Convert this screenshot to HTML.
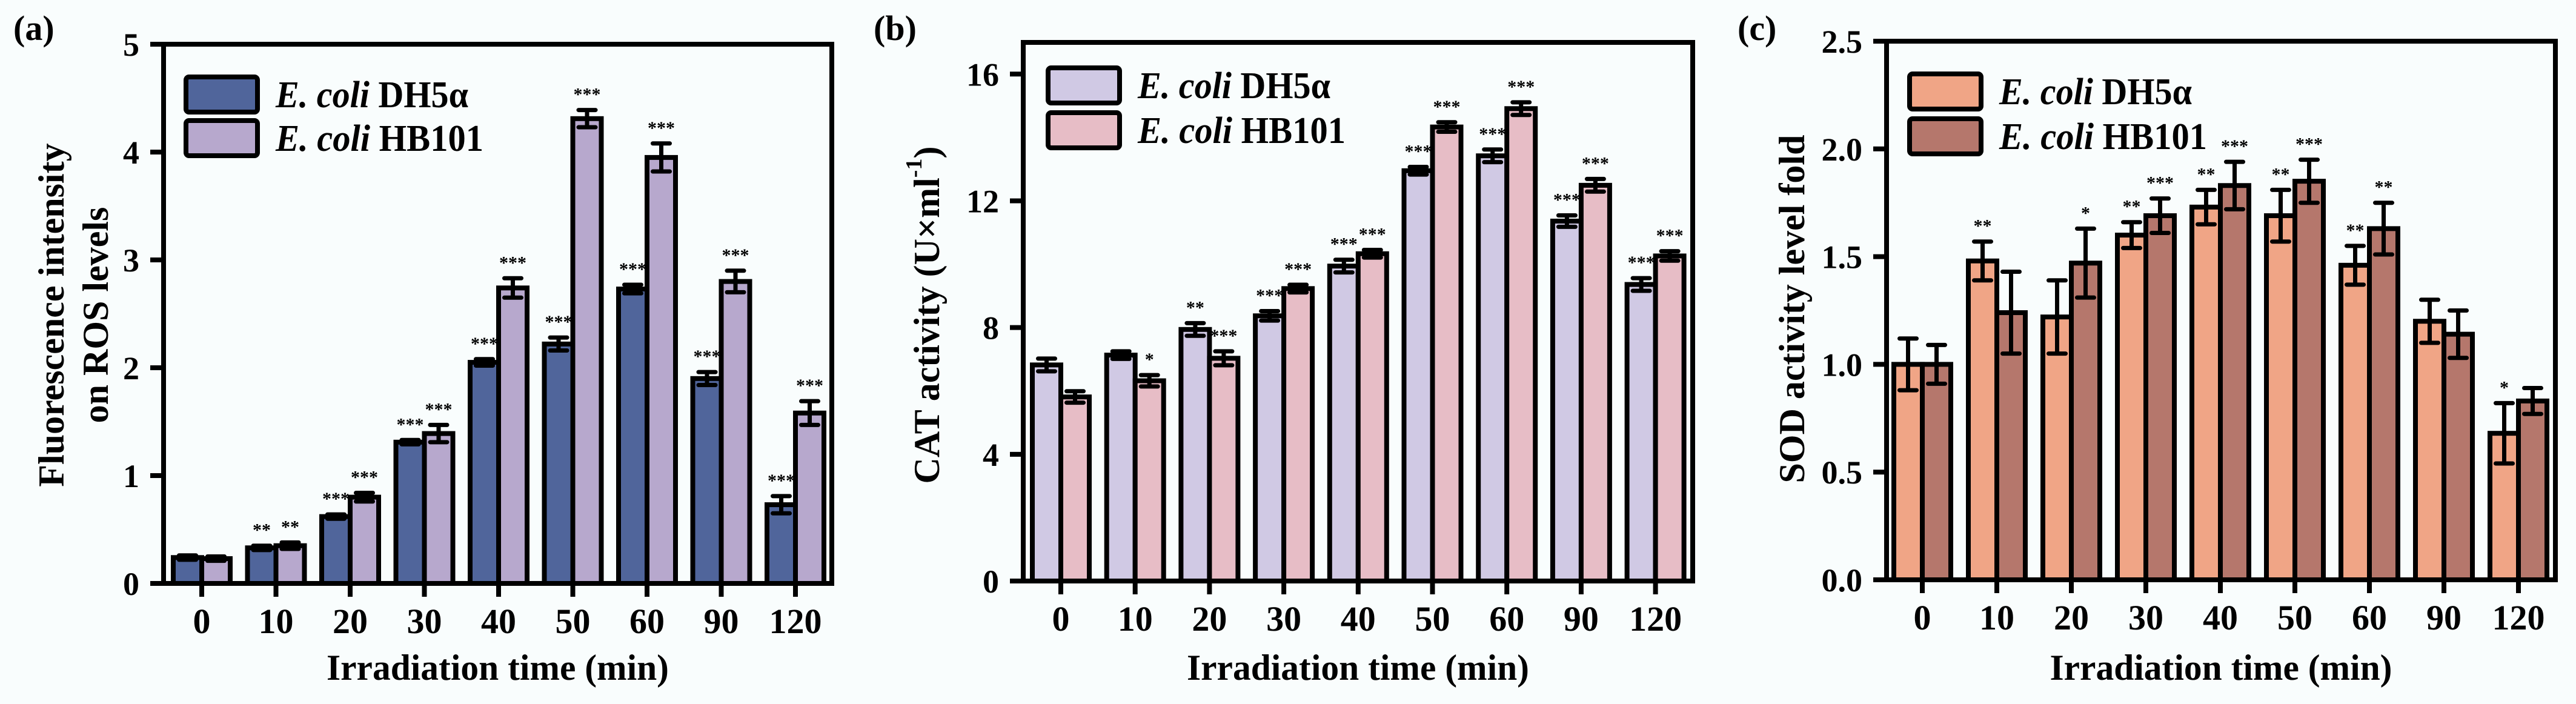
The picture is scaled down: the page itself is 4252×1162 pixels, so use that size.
<!DOCTYPE html>
<html><head><meta charset="utf-8">
<style>
html,body{margin:0;padding:0;background:#f9fdfd;}
svg{display:block;}
text{font-family:"Liberation Serif",serif;font-weight:bold;fill:#000;}
</style></head>
<body>
<svg id="fig" width="4252" height="1162" viewBox="0 0 4252 1162" xmlns="http://www.w3.org/2000/svg">
<rect x="0" y="0" width="4252" height="1162" fill="#f9fdfd"/>
</svg>
<script>
// ---- data ----
const categories = ["0","10","20","30","40","50","60","90","120"];
const rosDH5a = [0.24,0.33,0.62,1.31,2.05,2.22,2.73,1.90,0.73];
const rosDH5aErr = [0.02,0.02,0.02,0.02,0.03,0.06,0.04,0.06,0.08];
const rosHB101 = [0.23,0.35,0.80,1.39,2.74,4.31,3.95,2.80,1.58];
const rosHB101Err = [0.02,0.03,0.04,0.08,0.09,0.08,0.13,0.10,0.11];
const rosStarsDH = ["","**","***","***","***","***","***","***","***"];
const rosStarsHB = ["","**","***","***","***","***","***","***","***"];
const rosTicks = [0,1,2,3,4,5];
const rosTickLabels = ["0","1","2","3","4","5"];

const catDH5a = [6.82,7.13,7.94,8.37,9.94,12.95,13.42,11.36,9.36];
const catDH5aErr = [0.2,0.12,0.2,0.15,0.2,0.12,0.2,0.18,0.2];
const catHB101 = [5.81,6.32,7.03,9.23,10.33,14.33,14.91,12.49,10.26];
const catHB101Err = [0.18,0.18,0.22,0.12,0.12,0.15,0.2,0.2,0.15];
const catStarsDH = ["","","**","***","***","***","***","***","***"];
const catStarsHB = ["","*","***","***","***","***","***","***","***"];
const catTicks = [0,4,8,12,16];
const catTickLabels = ["0","4","8","12","16"];

const sodDH5a = [1.00,1.48,1.22,1.60,1.73,1.69,1.46,1.20,0.68];
const sodDH5aErr = [0.12,0.09,0.17,0.06,0.08,0.12,0.09,0.10,0.14];
const sodHB101 = [1.00,1.24,1.47,1.69,1.83,1.85,1.63,1.14,0.83];
const sodHB101Err = [0.09,0.19,0.16,0.08,0.11,0.10,0.12,0.11,0.06];
const sodStarsDH = ["","**","","**","**","**","**","","*"];
const sodStarsHB = ["","","*","***","***","***","**","",""];
const sodTicks = [0,0.5,1,1.5,2,2.5];
const sodTickLabels = ["0.0","0.5","1.0","1.5","2.0","2.5"];

const NS = "http://www.w3.org/2000/svg";
const svg = document.getElementById("fig");
function mk(tag, attrs, parent){
  const e = document.createElementNS(NS, tag);
  for (const k in attrs) e.setAttribute(k, attrs[k]);
  (parent||svg).appendChild(e);
  return e;
}

function panel(cfg){
  const g = mk("g", {});
  
  
  const y = v => cfg.bottom - v / cfg.max * (cfg.bottom - cfg.top);
  const xc = i => cfg.x0 + i * cfg.step;
  const bw = 47;
  for (let i = 0; i < categories.length; i++){
    const series = [[cfg.s1, cfg.e1, cfg.c1, -1, cfg.st1, "dh5a"], [cfg.s2, cfg.e2, cfg.c2, 1, cfg.st2, "hb101"]];
    for (const [s, e, col, side, st, nm] of series){
      const v = s[i];
      const cx = side < 0 ? xc(i) - bw/2 : xc(i) + bw/2;
      const r = mk("rect", {x: (side<0? xc(i)-bw : xc(i)), y: y(v), width: bw, height: cfg.bottom - y(v), fill: col, stroke: "#000", "stroke-width": 8}, g);
      
      
      const top = y(v + e[i]), bot = y(v - e[i]);
      const eb = mk("path", {d: `M${cx} ${top}V${bot}M${cx-14} ${top}H${cx+14}M${cx-14} ${bot}H${cx+14}`, stroke: "#000", "stroke-width": 7, "stroke-linecap": "round", fill: "none"}, g);
      
      
      if (st[i]){
        const t = mk("text", {x: cx, y: top - 16, "text-anchor": "middle", "font-size": 30}, g);
        t.textContent = st[i];
        
        
      }
    }
    const tk = mk("line", {x1: xc(i), x2: xc(i), y1: cfg.bottom, y2: cfg.bottom + 22, stroke: "#000", "stroke-width": 8}, g);
    
    
    const tl = mk("text", {x: xc(i), y: cfg.bottom + 82, "text-anchor": "middle", "font-size": 58}, g);
    tl.textContent = categories[i];
    
    
  }
  const fr = mk("rect", {x: cfg.left, y: cfg.top, width: cfg.right - cfg.left, height: cfg.bottom - cfg.top, fill: "none", stroke: "#000", "stroke-width": 8}, g);
  
  
  cfg.ticks.forEach((tv, k) => {
    const ln = mk("line", {x1: cfg.left - 22, x2: cfg.left, y1: y(tv), y2: y(tv), stroke: "#000", "stroke-width": 8}, g);
    
    
    const t = mk("text", {x: cfg.left - 40, y: y(tv) + 19, "text-anchor": "end", "font-size": 54}, g);
    t.textContent = cfg.tickLabels[k];
    
    
  });
  const xt = mk("text", {x: (cfg.left + cfg.right)/2, y: 1122, "text-anchor": "middle", "font-size": 60, textLength: 565, lengthAdjust: "spacingAndGlyphs"}, g);
  xt.textContent = "Irradiation time (min)";
  
  
  cfg.ytitle.forEach((line, k) => {
    const yx = cfg.ytitleX[k];
    const yy = cfg.ytitleY;
    const t = mk("text", {x: yx, y: yy, "text-anchor": "middle", "font-size": 60, transform: `rotate(-90 ${yx} ${yy})`, "dominant-baseline": "central"}, g);
    if (line === "CAT"){
      t.innerHTML = 'CAT activity (U×ml<tspan baseline-shift="super" font-size="38">-1</tspan>)';
    } else t.textContent = line;
    
    
  });
  const pl = mk("text", {x: cfg.labelX, y: 66, "font-size": 58}, g);
  pl.textContent = cfg.label;
  
  
  [[cfg.c1, "DH5α", cfg.legY[0], 318], [cfg.c2, "HB101", cfg.legY[1], 343]].forEach(([col, strain, ly, len]) => {
    const lr = mk("rect", {x: cfg.legX, y: ly, width: 118, height: 58, rx: 5, fill: col, stroke: "#000", "stroke-width": 8}, g);
    
    
    const lt = mk("text", {x: cfg.legX + 148, y: ly + 50, "font-size": 62, textLength: len, lengthAdjust: "spacingAndGlyphs"}, g);
    lt.innerHTML = '<tspan font-style="italic">E. coli</tspan> ' + strain;
    
    
  });
}

panel({name:"panel-a-ros", label:"(a)", labelX:22, left:270, right:1373, top:73, bottom:963, max:5, x0:333, step:122.5,
  s1:rosDH5a, e1:rosDH5aErr, s2:rosHB101, e2:rosHB101Err, st1:rosStarsDH, st2:rosStarsHB,
  c1:"#50659b", c2:"#b7a8cd", ticks:rosTicks, tickLabels:rosTickLabels,
  ytitle:["Fluorescence intensity","on ROS levels"], ytitleX:[85,158], ytitleY:520, legX:307, legY:[127,199]});
panel({name:"panel-b-cat", label:"(b)", labelX:1442, left:1689, right:2794, top:70, bottom:959, max:17, x0:1751, step:122.7,
  s1:catDH5a, e1:catDH5aErr, s2:catHB101, e2:catHB101Err, st1:catStarsDH, st2:catStarsHB,
  c1:"#d0c9e4", c2:"#e7bdc6", ticks:catTicks, tickLabels:catTickLabels,
  ytitle:["CAT"], ytitleX:[1530], ytitleY:520, legX:1730, legY:[112,186]});
panel({name:"panel-c-sod", label:"(c)", labelX:2868, left:3114, right:4218, top:68, bottom:957, max:2.5, x0:3173, step:123,
  s1:sodDH5a, e1:sodDH5aErr, s2:sodHB101, e2:sodHB101Err, st1:sodStarsDH, st2:sodStarsHB,
  c1:"#f0a586", c2:"#b5776c", ticks:sodTicks, tickLabels:sodTickLabels,
  ytitle:["SOD activity level fold"], ytitleX:[2958], ytitleY:510, legX:3152, legY:[122,196]});
</script>
</body></html>
